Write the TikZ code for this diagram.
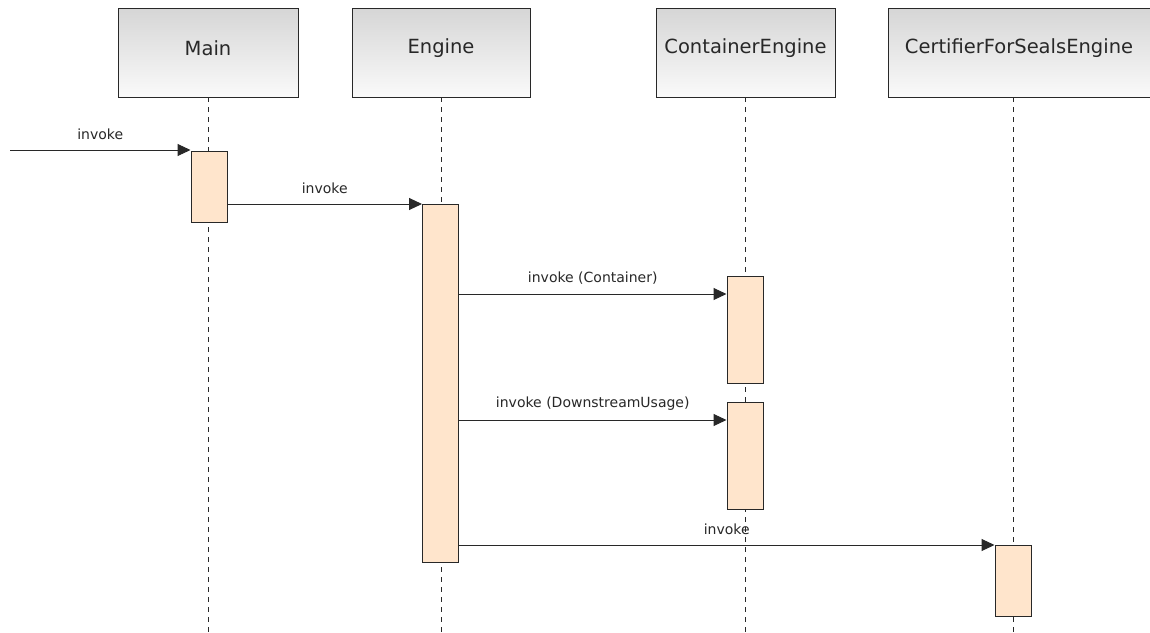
\documentclass[tikz,border=0pt]{standalone}
\usepackage{fontspec}
\setmainfont{DejaVu Sans}
\usetikzlibrary{arrows.meta,calc}
\definecolor{headtop}{RGB}{214,214,214}
\definecolor{headbot}{RGB}{250,250,250}
\definecolor{actfill}{RGB}{255,229,204}
\definecolor{edge}{RGB}{40,40,40}
\definecolor{txt}{RGB}{40,40,40}
\tikzset{
  head/.style={draw=edge, line width=1pt, top color=headtop, bottom color=headbot,
    minimum height=89pt, anchor=north west, inner sep=0pt},
  headtext/.style={text=txt, font=\fontsize{19.5}{22}\selectfont},
  act/.style={draw=edge, line width=1pt, fill=actfill, minimum width=36pt,
    anchor=north, inner sep=0pt},
  life/.style={edge, line width=0.9pt, dash pattern=on 5pt off 5pt},
  msg/.style={edge, line width=1pt, -{Triangle[length=13pt,width=12pt]}},
  lbl/.style={text=txt, font=\fontsize{14}{16}\selectfont, above, yshift=6pt}
}
\begin{document}
\begin{tikzpicture}[x=1pt,y=-1pt]
\useasboundingbox[fill=white] (0,0) rectangle (1150,632);

% lifeline heads
\node[head, minimum width=180pt] (main) at (118,8) {};
\node[headtext] at (208,48) {Main};
\node[head, minimum width=178pt] (eng) at (352,8) {};
\node[headtext] at (441,48) {Engine};
\node[head, minimum width=179pt] (cont) at (656,8) {};
\node[headtext] at (745.5,48) {ContainerEngine};
\node[head, minimum width=266pt] (cert) at (888,8) {};
\node[headtext] at (1019,48) {CertifierForSealsEngine};

% lifelines
\draw[life] (208,97) -- (208,632);
\draw[life] (441,97) -- (441,632);
\draw[life] (745,97) -- (745,632);
\draw[life] (1013,97) -- (1013,632);

% activations
\node[act, minimum height=71pt] (mainact) at (209,151) {};
\node[act, minimum height=358pt] (engact) at (440.5,204) {};
\node[act, minimum height=107pt] (cont1) at (745,276) {};
\node[act, minimum height=107pt] (cont2) at (745,402) {};
\node[act, minimum height=71pt] (certact) at (1013,545) {};

% message heights
\coordinate (start) at (10,150);
\coordinate (m2) at (0,204);
\coordinate (m3) at (0,294);
\coordinate (m4) at (0,420);
\coordinate (m5) at (0,545);

% messages
\draw[msg] (start) -- (mainact.west |- start) node[lbl, midway] {invoke};
\draw[msg] (mainact.east |- m2) -- (engact.west |- m2) node[lbl, midway] {invoke};
\draw[msg] (engact.east |- m3) -- (cont1.west |- m3) node[lbl, midway] {invoke (Container)};
\draw[msg] (engact.east |- m4) -- (cont2.west |- m4) node[lbl, midway] {invoke (DownstreamUsage)};
\draw[msg] (engact.east |- m5) -- (certact.west |- m5) node[lbl, midway] {invoke};
\end{tikzpicture}
\end{document}
